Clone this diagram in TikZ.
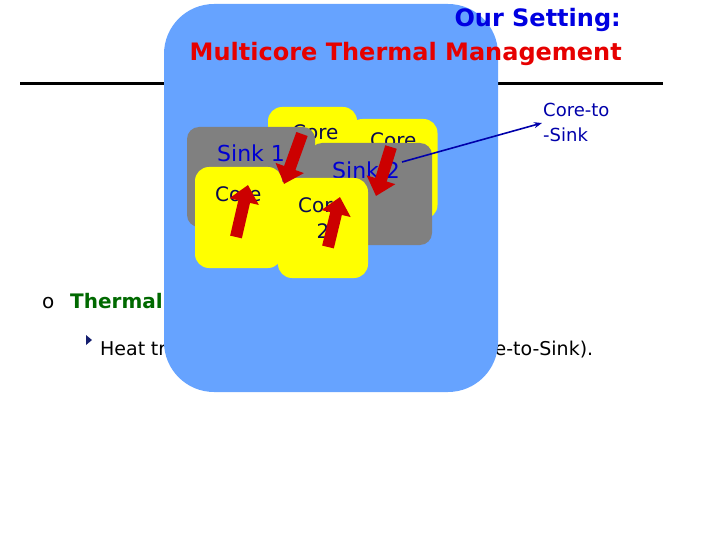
\documentclass[tikz,border=0pt]{standalone}
\usepackage{fontspec}
\setmainfont{DejaVu Sans}
\usetikzlibrary{arrows.meta}
\definecolor{panelblue}{RGB}{102,163,255}
\definecolor{coreyellow}{RGB}{255,255,0}
\definecolor{sinkgray}{RGB}{128,128,128}
\definecolor{titleblue}{RGB}{0,0,225}
\definecolor{titlered}{RGB}{230,0,0}
\definecolor{sinkblue}{RGB}{0,0,210}
\definecolor{corenavy}{RGB}{10,10,80}
\definecolor{noteblue}{RGB}{0,0,170}
\definecolor{heatred}{RGB}{204,0,0}
\definecolor{thermgreen}{RGB}{0,105,0}
\definecolor{bulletnavy}{RGB}{20,30,110}
\tikzset{
  panel/.style={fill=panelblue, draw=none, rounded corners=50pt, inner sep=0pt},
  corebox/.style={fill=coreyellow, draw=none, rounded corners=14pt, inner sep=0pt, minimum width=89pt, minimum height=100pt},
  sinkbox/.style={fill=sinkgray, draw=none, rounded corners=12pt, inner sep=0pt},
  coretext/.style={text=corenavy, inner sep=0pt, font=\fontsize{20}{24}\selectfont},
  sinktext/.style={text=sinkblue, inner sep=0pt, font=\fontsize{22}{26}\selectfont},
  heatarrow/.style={draw=heatred, line width=12pt, -{Triangle[length=17pt,width=29pt]}},
  titletext/.style={inner sep=0pt, font=\fontsize{24}{28}\selectfont\bfseries}
}
\begin{document}
\begin{tikzpicture}[x=1pt,y=-1pt]
\useasboundingbox (0,0) rectangle (720,540);
% rule under title
\coordinate (ruleL) at (20,84);
\coordinate (ruleR) at (663,84);
\draw[line width=3pt] (ruleL) -- (ruleR);
% bullet text (partly hidden by panel)
\node[inner sep=0pt, anchor=base west, font=\fontsize{20}{24}\selectfont] (obullet) at (42,308) {o};
\node[inner sep=0pt, anchor=base west, text=thermgreen, font=\fontsize{20}{24}\selectfont\bfseries] (thermal) at (70,308) {Thermal};
\fill[bulletnavy] (86,335) -- (92,340) -- (86,345) -- cycle;
\node[inner sep=0pt, anchor=base west, font=\fontsize{19}{23}\selectfont] (heat) at (100,355) {\makebox[493pt][s]{Heat transfer among cores and sinks (Core-to-Sink).}};
% big panel
\node[panel, minimum width=334pt, minimum height=388pt] (panelbox) at (331,198) {};
% title
\node[titletext, text=titleblue, anchor=base east] (title1) at (621,27) {Our Setting:};
\node[titletext, text=titlered, anchor=base east] (title2) at (622,61) {Multicore Thermal Management};
% back cores
\node[corebox] (core3) at (393,169) {};
\node[corebox] (core1) at (312.5,157) {};
\node[coretext, anchor=base west] (core1t) at (292,140) {Core};
\node[coretext, anchor=base west] (core3t) at (370,148) {Core};
% sinks
\node[sinkbox, minimum width=128pt, minimum height=100pt] (sink1) at (251,177) {};
\node[sinkbox, minimum width=122pt, minimum height=102pt] (sink2) at (371,194) {};
\node[sinktext, anchor=base west] (sink1t) at (217,162) {Sink 1};
\node[sinktext, anchor=base west] (sink2t) at (332,179) {Sink 2};
% front cores
\node[corebox, minimum width=87pt, minimum height=101pt] (core0) at (238.5,217.5) {};
\node[corebox, minimum width=90pt] (core2) at (323,228) {};
\node[coretext, anchor=base west] (core0t) at (215,202) {Core};
\node[coretext, anchor=base west] (core2t) at (298,212) {Core};
\node[coretext, anchor=base] (core2n) at (323,238) {2};
% heat arrows
\coordinate (a1s) at (302,134); \coordinate (a1e) at (284,184);
\coordinate (a2s) at (391,147); \coordinate (a2e) at (376,196);
\coordinate (a3s) at (236,237); \coordinate (a3e) at (248,185);
\coordinate (a4s) at (328,247); \coordinate (a4e) at (340,197);
\draw[heatarrow] (a1s) -- (a1e);
\draw[heatarrow] (a2s) -- (a2e);
\draw[heatarrow] (a3s) -- (a3e);
\draw[heatarrow] (a4s) -- (a4e);
% callout
\node[inner sep=0pt, anchor=base west, text=noteblue, font=\fontsize{18}{22}\selectfont] (note1) at (543,117) {Core-to};
\node[inner sep=0pt, anchor=base west, text=noteblue, font=\fontsize{18}{22}\selectfont] (note2) at (543,142) {-Sink};
\coordinate (calloutS) at (402,162);
\coordinate (calloutE) at (542,123);
\draw[draw=noteblue, line width=1.6pt, -{Stealth[length=8pt,width=6pt]}] (calloutS) -- (calloutE);
\end{tikzpicture}
\end{document}
